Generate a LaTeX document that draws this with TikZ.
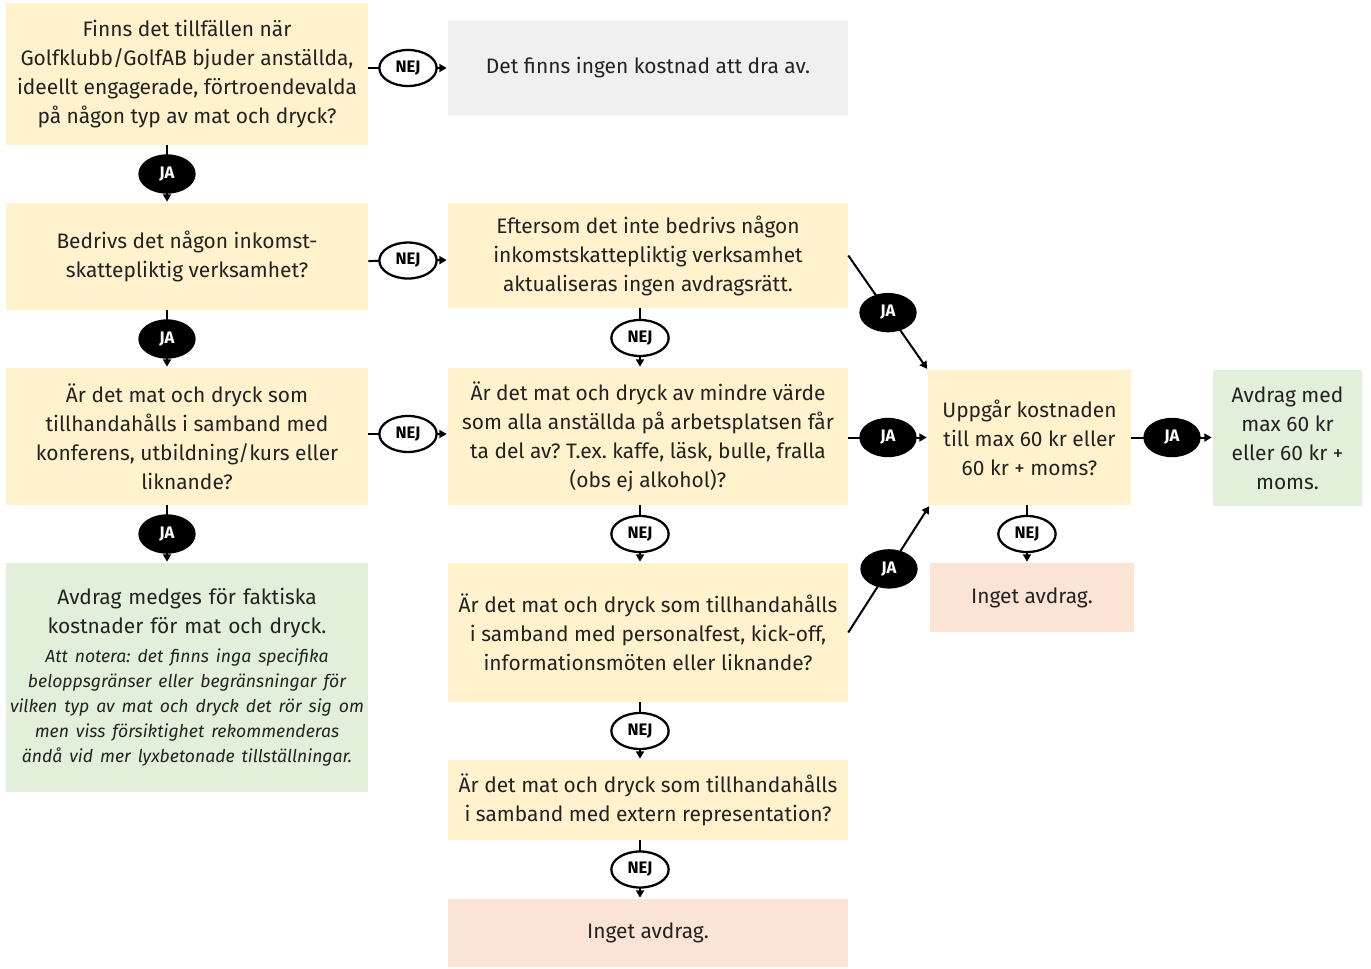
\documentclass[tikz,border=0pt]{standalone}
\usepackage{fontspec}
\setmainfont{Fira Sans}
\frenchspacing
\usetikzlibrary{shapes.geometric,arrows.meta}
\definecolor{qyellow}{HTML}{FFF2CC}
\definecolor{qgray}{HTML}{F0F0F0}
\definecolor{qgreen}{HTML}{E2EFDA}
\definecolor{qsalmon}{HTML}{FBE4D5}
\definecolor{txt}{HTML}{222222}
\tikzset{
  box/.style={rectangle,inner sep=0pt,align=center,text=txt,font=\fontsize{15.7}{21.75}\selectfont},
  ybox/.style={box,fill=qyellow},
  gbox/.style={box,fill=qgray},
  grbox/.style={box,fill=qgreen},
  sbox/.style={box,fill=qsalmon},
  conn/.style={line width=1.5pt,-{Triangle[length=5.5pt,width=6pt]},shorten >=0.8pt},
  nej/.style={ellipse,draw,line width=1.7pt,fill=white,inner sep=0pt,minimum width=43pt,minimum height=27pt,font=\bfseries\fontsize{12.5}{13}\selectfont},
  ja/.style={ellipse,draw,line width=1pt,fill=black,text=white,inner sep=0pt,minimum width=42pt,minimum height=28.5pt,font=\bfseries\fontsize{12.5}{13}\selectfont},
}
\begin{document}
\begin{tikzpicture}[x=0.75pt,y=-0.75pt]
\useasboundingbox (0,0) rectangle (1371,968);
% boxes
\node[ybox,minimum width=271.5pt,minimum height=106.5pt] (B1) at (187,74) {Finns det tillfällen när\\Golfklubb/GolfAB bjuder anställda,\\ideellt engagerade, förtroendevalda\\på någon typ av mat och dryck?};
\node[gbox,minimum width=300pt,minimum height=70.5pt] (B1r) at (648,68) {Det finns ingen kostnad att dra av.};
\node[ybox,minimum width=271.5pt,minimum height=80.25pt] (B2) at (187,256.5) {Bedrivs det någon inkomst-\\skattepliktig verksamhet?};
\node[ybox,minimum width=300pt,minimum height=78.75pt] (B2r) at (648,255.5) {Eftersom det inte bedrivs någon\\inkomstskattepliktig verksamhet\\aktualiseras ingen avdragsrätt.};
\node[ybox,minimum width=271.5pt,minimum height=102.75pt] (B3) at (187,436.5) {Är det mat och dryck som\\tillhandahålls i samband med\\konferens, utbildning/kurs eller\\liknande?};
\node[ybox,minimum width=300pt,minimum height=102.75pt] (B3m) at (648,436.5) {Är det mat och dryck av mindre värde\\som alla anställda på arbetsplatsen får\\ta del av? T.ex. kaffe, läsk, bulle, fralla\\(obs ej alkohol)?};
\node[grbox,minimum width=271.5pt,minimum height=171.75pt,text width=271pt] (B4) at (187,677.5) {Avdrag medges för faktiska\\kostnader för mat och dryck.\par\vspace{3pt}
{\itshape\fontsize{13.2}{18.75}\selectfont Att notera: det finns inga specifika\\beloppsgränser eller begränsningar för\\vilken typ av mat och dryck det rör sig om\\men viss försiktighet rekommenderas\\ändå vid mer lyxbetonade tillställningar.\par}};
\node[ybox,minimum width=300pt,minimum height=104.25pt] (B4m) at (648,632.5) {Är det mat och dryck som tillhandahålls\\i samband med personalfest, kick-off,\\informationsmöten eller liknande?};
\node[ybox,minimum width=300pt,minimum height=60pt] (B5m) at (648,800) {Är det mat och dryck som tillhandahålls\\i samband med extern representation?};
\node[sbox,minimum width=300pt,minimum height=51pt] (B6m) at (648,933) {Inget avdrag.};
\node[ybox,minimum width=152.25pt,minimum height=101.25pt] (R1) at (1029.5,437.5) {Uppgår kostnaden\\till max 60 kr eller\\60 kr + moms?};
\node[grbox,minimum width=111.75pt,minimum height=102pt] (R2) at (1287.5,438) {Avdrag med\\max 60 kr\\eller 60 kr +\\moms.};
\node[sbox,minimum width=153pt,minimum height=51.75pt] (R3) at (1032,597.5) {Inget avdrag.};
% connectors
\draw[conn] (B1.east |- B1r.west) -- node[nej]{NEJ} (B1r.west);
\draw[conn] ([xshift=-15pt]B1.south) -- node[ja]{JA} ([xshift=-15pt]B2.north);
\draw[conn] ([yshift=-3.4pt]B2.east) -- node[nej]{NEJ} ([yshift=-3.4pt]B2r.west);
\draw[conn] ([xshift=-15pt]B2.south) -- node[ja]{JA} ([xshift=-15pt]B3.north);
\draw[conn] ([xshift=-6pt]B2r.south) -- node[nej]{NEJ} ([xshift=-6pt]B3m.north);
\draw[conn] ([yshift=1.9pt]B3.east) -- node[nej]{NEJ} ([yshift=1.9pt]B3m.west);
\draw[conn] ([xshift=-15pt]B3.south) -- node[ja]{JA} ([xshift=-15pt]B4.north);
\draw[conn] ([xshift=-6pt]B3m.south) -- node[nej]{NEJ} ([xshift=-6pt]B4m.north);
\draw[conn] ([xshift=-6pt]B4m.south) -- node[nej]{NEJ} ([xshift=-6pt]B5m.north);
\draw[conn] ([xshift=-6pt]B5m.south) -- node[nej]{NEJ} ([xshift=-6pt]B6m.north);
\draw[conn] (B3m.east |- R1.west) -- node[ja]{JA} (R1.west);
\draw[conn] (R1.east) -- node[ja]{JA} (R2.west |- R1.east);
\draw[conn] ([xshift=-1.9pt]R1.south) -- node[nej]{NEJ} ([xshift=-1.9pt]R1.south |- R3.north);
\draw[conn] (B2r.east) -- node[ja]{JA} (R1.north west);
\draw[conn] (B4m.east) -- node[ja]{JA} ([xshift=1.5pt]R1.south west);
\end{tikzpicture}
\end{document}
